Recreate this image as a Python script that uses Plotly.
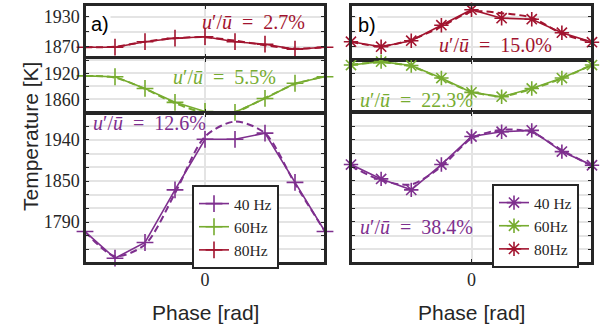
import plotly.graph_objects as go

# ---------------- data ----------------
PHASE = [-3.1416, -2.3562, -1.5708, -0.7854, 0.0, 0.7854, 1.5708, 2.3562, 3.1416]

# panel a)  (measured = solid with +, fit = dashed)
A_40_MEAS = [1776, 1737, 1760, 1837, 1911, 1911, 1920, 1848, 1776]
A_40_FIT = [1776, 1740, 1757, 1832, 1915, 1937, 1920, 1846, 1776]
A_60_MEAS = [1914, 1912, 1885, 1853, 1832, 1830, 1862, 1897, 1912]
A_60_FIT = [1914, 1910, 1884, 1851, 1829, 1831, 1863, 1895, 1913]
A_80_MEAS = [1869, 1869, 1880, 1887, 1890, 1880, 1875, 1865, 1869]
A_80_FIT = [1869, 1870, 1880, 1887, 1889, 1882, 1873, 1866, 1869]

# panel b)  (measured = solid with *, fit = dashed)
B_40_MEAS = [1874, 1853, 1837, 1874, 1915, 1922, 1924, 1893, 1873]
B_40_FIT = [1872, 1851, 1845, 1871, 1912, 1925, 1921, 1895, 1872]
B_60_MEAS = [1939, 1947, 1938, 1909, 1876, 1866, 1885, 1909, 1939]
B_60_FIT = [1940, 1945, 1936, 1907, 1878, 1867, 1884, 1908, 1940]
B_80_MEAS = [1880, 1870, 1882, 1913, 1944, 1927, 1925, 1898, 1879]
B_80_FIT = [1880, 1871, 1884, 1910, 1940, 1937, 1928, 1896, 1879]

FREQ_LABELS = ["40 Hz", "60Hz", "80Hz"]
INTENSITY_A = ["12.6%", "5.5%", "2.7%"]
INTENSITY_B = ["38.4%", "22.3%", "15.0%"]

TICKVALS_TOP = [1870, 1900, 1930]
TICKTEXT_TOP = ["1870", "", "1930"]
TICKVALS_MID = [1860, 1890, 1920, 1950]
TICKTEXT_MID = ["1860", "", "1920", ""]
TICKVALS_BOT = [1750, 1770, 1790, 1810, 1830, 1850, 1870, 1890, 1910, 1930]
TICKTEXT_BOT = ["", "", "1790", "", "", "1850", "", "", "1940", ""]
X_TICKVALS = [0]
X_TICKTEXT = ["0"]

# ---------------- styling ----------------
W, H = 600, 325
PURPLE = "#7e2f8e"
GREEN = "#77ac30"
RED = "#a2142f"
COLORS = [PURPLE, GREEN, RED]
DARK = "#262626"
GRID = "#e4e4e4"
SERIF = "Liberation Serif"
SANS = "Liberation Sans"


def px(x):
    return x / W


def py(y):
    return 1 - y / H


XA = [px(85), px(325)]
XB = [px(351), px(592)]
# axis index -> (x domain, y domain, range, tickvals, ticktext, show labels)
AXES = {
    1: (XA, [py(58), py(5)], [1847.4, 1953.4], TICKVALS_TOP, TICKTEXT_TOP, True),
    2: (XA, [py(113), py(58)], [1828.4, 1955.3], TICKVALS_MID, TICKTEXT_MID, True),
    3: (XA, [py(263), py(113)], [1730.0, 1949.5], TICKVALS_BOT, TICKTEXT_BOT, True),
    4: (XB, [py(60), py(5)], [1843.4, 1953.4], TICKVALS_TOP, TICKTEXT_TOP, False),
    5: (XB, [py(112), py(60)], [1830.7, 1950.7], TICKVALS_MID, TICKTEXT_MID, False),
    6: (XB, [py(263), py(112)], [1730.0, 1950.9], TICKVALS_BOT, TICKTEXT_BOT, False),
}

fig = go.Figure()

panel_a = [(A_40_MEAS, A_40_FIT, 3), (A_60_MEAS, A_60_FIT, 2), (A_80_MEAS, A_80_FIT, 1)]
panel_b = [(B_40_MEAS, B_40_FIT, 6), (B_60_MEAS, B_60_FIT, 5), (B_80_MEAS, B_80_FIT, 4)]


def add_panel(series, symbol, legend):
    for i, (meas, fit, ax) in enumerate(series):
        xa = "x" if ax == 1 else f"x{ax}"
        ya = "y" if ax == 1 else f"y{ax}"
        c = COLORS[i]
        fig.add_trace(go.Scatter(
            x=PHASE, y=fit, xaxis=xa, yaxis=ya, mode="lines",
            line=dict(color=c, width=2, dash="7px,4px", shape="spline", smoothing=0.8),
            showlegend=False, hoverinfo="skip"))
        fig.add_trace(go.Scatter(
            x=PHASE, y=meas, xaxis=xa, yaxis=ya, mode="lines+markers",
            line=dict(color=c, width=1.6),
            marker=dict(symbol=symbol, size=12, color=c,
                        line=dict(color=c, width=1.6)),
            cliponaxis=False, name=FREQ_LABELS[i], legend=legend))


add_panel(panel_a, "cross-thin", "legend")
add_panel(panel_b, "asterisk", "legend2")

layout = dict(
    width=W, height=H, autosize=False,
    margin=dict(l=0, r=0, t=0, b=0),
    paper_bgcolor="white", plot_bgcolor="white",
    showlegend=True,
)

for ax, (xd, yd, rng, tv, tt, show) in AXES.items():
    xk = "xaxis" if ax == 1 else f"xaxis{ax}"
    yk = "yaxis" if ax == 1 else f"yaxis{ax}"
    ya = "y" if ax == 1 else f"y{ax}"
    xa = "x" if ax == 1 else f"x{ax}"
    bottom = ax in (3, 6)
    layout[xk] = dict(
        domain=xd, anchor=ya, range=[-3.1416, 3.1416],
        tickvals=X_TICKVALS, ticktext=X_TICKTEXT, showticklabels=bottom,
        ticks="inside", ticklen=4, tickwidth=1.2, tickcolor=DARK,
        showgrid=True, gridcolor=GRID, gridwidth=2, zeroline=False,
        showline=True, linecolor=DARK, linewidth=1.5, mirror="ticks",
        tickfont=dict(family=SERIF, size=18, color=DARK),
        fixedrange=True,
    )
    layout[yk] = dict(
        domain=yd, anchor=xa, range=rng,
        tickvals=tv, ticktext=tt, showticklabels=show,
        ticks="inside", ticklen=4, tickwidth=1.2, tickcolor=DARK,
        showgrid=True, gridcolor=GRID, gridwidth=2, zeroline=False,
        showline=True, linecolor=DARK, linewidth=1.5, mirror="ticks",
        tickfont=dict(family=SERIF, size=18, color=DARK),
        fixedrange=True,
    )

legend_common = dict(
    bgcolor="white", bordercolor=DARK, borderwidth=2,
    font=dict(family=SERIF, size=15.5, color=DARK),
    xanchor="left", yanchor="top", traceorder="normal",
    itemwidth=30, tracegroupgap=0,
)
layout["legend"] = dict(x=px(192), y=py(185), **legend_common)
layout["legend2"] = dict(x=px(492), y=py(184), **legend_common)

fig.update_layout(**layout)

# outer frames
for xd in (XA, XB):
    fig.add_shape(type="rect", xref="paper", yref="paper",
                  x0=xd[0], x1=xd[1], y0=py(263), y1=py(5),
                  line=dict(color=DARK, width=2), layer="above")


def math_label(pct):
    return "<i>u</i>′/<i>ū</i>\u2002=\u2002" + pct


ann = []
# intensity labels
pos_a = [(149, 123), (224, 77), (253, 22)]
pos_b = [(416, 227), (416, 100), (495, 45)]
for i in range(3):
    ann.append(dict(x=px(pos_a[i][0]), y=py(pos_a[i][1]), text=math_label(INTENSITY_A[i]),
                    font=dict(family=SERIF, size=20, color=COLORS[i])))
    ann.append(dict(x=px(pos_b[i][0]), y=py(pos_b[i][1]), text=math_label(INTENSITY_B[i]),
                    font=dict(family=SERIF, size=20, color=COLORS[i])))
# panel letters
ann.append(dict(x=px(100), y=py(24), text="a)", bgcolor="white",
                font=dict(family=SANS, size=20, color="black")))
ann.append(dict(x=px(367), y=py(25), text="b)", bgcolor="white",
                font=dict(family=SANS, size=20, color="black")))
# axis titles
ann.append(dict(x=px(30), y=py(137), text="Temperature [K]", textangle=-90,
                font=dict(family=SANS, size=21, color=DARK)))
for cx in (205, 471):
    ann.append(dict(x=px(cx), y=py(312), text="Phase [rad]",
                    font=dict(family=SANS, size=21, color=DARK)))

for a in ann:
    a.update(xref="paper", yref="paper", showarrow=False,
             xanchor="center", yanchor="middle")
    fig.add_annotation(**a)

fig.write_html("out.html")
